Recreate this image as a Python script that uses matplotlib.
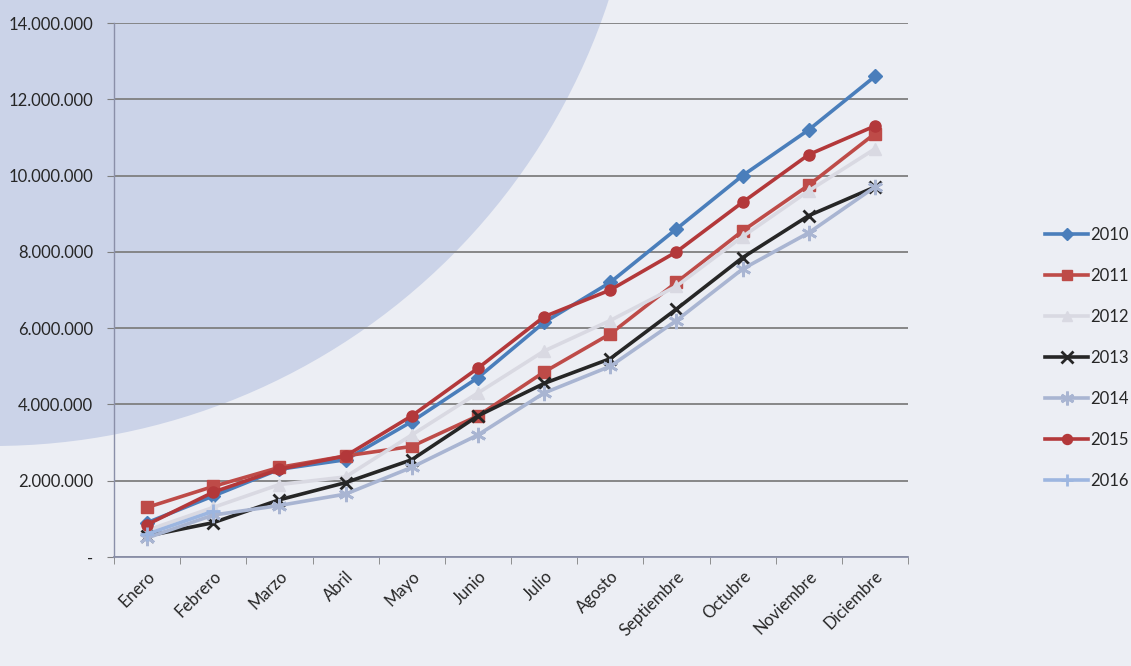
import numpy as np
import matplotlib
matplotlib.use("Agg")
import matplotlib.pyplot as plt
from matplotlib.patches import Circle
from matplotlib.ticker import FuncFormatter

# Datos (valores acumulados por mes)
meses = ["Enero", "Febrero", "Marzo", "Abril", "Mayo", "Junio", "Julio",
         "Agosto", "Septiembre", "Octubre", "Noviembre", "Diciembre"]

y2010 = [0.90, 1.60, 2.30, 2.55, 3.55, 4.70, 6.15, 7.20, 8.60, 10.00, 11.20, 12.60]
y2011 = [1.30, 1.85, 2.35, 2.65, 2.90, 3.70, 4.85, 5.85, 7.20, 8.55, 9.75, 11.10]
y2012 = [0.70, 1.30, 1.90, 2.10, 3.20, 4.30, 5.40, 6.20, 7.10, 8.40, 9.60, 10.70]
y2013 = [0.55, 0.90, 1.50, 1.95, 2.55, 3.70, 4.55, 5.20, 6.50, 7.85, 8.95, 9.70]
y2014 = [0.50, 1.10, 1.35, 1.65, 2.35, 3.20, 4.30, 5.00, 6.20, 7.55, 8.50, 9.70]
y2015 = [0.85, 1.70, 2.30, 2.65, 3.70, 4.95, 6.30, 7.00, 8.00, 9.30, 10.55, 11.30]
y2016 = [0.60, 1.20] + [np.nan] * 10

series = [
    ("2010", y2010, "#4a7ebb", "D", 7),
    ("2011", y2011, "#be4b48", "s", 8),
    ("2012", y2012, "#d9d9e2", "^", 8),
    ("2013", y2013, "#262626", "x", 9),
    ("2014", y2014, "#a9b5d2", (6, 2, 0), 11),
    ("2015", y2015, "#b3383a", "o", 8),
    ("2016", y2016, "#9db6e0", "+", 10),
]

W, H = 1131, 666
fig = plt.figure(figsize=(W / 100, H / 100), dpi=100)
fig.patch.set_facecolor("#eceef4")

# Círculo decorativo del fondo, en un eje de fondo que ocupa toda la figura
bg = fig.add_axes([0, 0, 1, 1], zorder=-5)
bg.set_xlim(0, W)
bg.set_ylim(H, 0)
bg.axis("off")
bg.add_patch(Circle((-7, -202), 648, facecolor="#cbd3e8", edgecolor="none"))

ax = fig.add_axes([114 / W, 1 - 557 / H, (908 - 114) / W, (557 - 23) / H])
ax.set_facecolor("none")

x = np.arange(len(meses))
for label, vals, color, marker, ms in series:
    vals = np.array(vals) * 1e6
    ax.plot(x, vals, color=color, lw=2.6, marker=marker, ms=ms,
            mew=2 if marker in ("x", "+") or isinstance(marker, tuple) else 1,
            label=label, zorder=3)

ax.set_xlim(-0.5, len(meses) - 0.5)
ax.set_ylim(0, 14e6)
ax.set_yticks(np.arange(0, 14e6 + 1, 2e6))


def fmt(v, pos):
    if v == 0:
        return "-"
    return f"{int(v):,}".replace(",", ".")


ax.yaxis.set_major_formatter(FuncFormatter(fmt))
ax.yaxis.grid(True, color="#7f7f7f", lw=1.3, zorder=1)
ax.set_axisbelow(True)

ax.set_xticks(x)
ax.set_xticklabels(meses, rotation=45, ha="right", rotation_mode="anchor",
                   fontsize=12, color="#262626", family="Lato")
ax.set_xticks(np.arange(-0.5, len(meses), 1), minor=True)
ax.tick_params(axis="x", which="major", length=0, pad=8)
ax.tick_params(axis="x", which="minor", length=5, color="#7f7f7f", direction="out")
ax.tick_params(axis="y", length=5, color="#7f7f7f", labelsize=12,
               labelcolor="#262626", pad=10)
for t in ax.get_yticklabels():
    t.set_family("Lato")

for s in ["top", "right"]:
    ax.spines[s].set_visible(False)
ax.spines["left"].set_color("#8a8fa8")
ax.spines["bottom"].set_color("#8a8fa8")
ax.spines["left"].set_linewidth(1.0)
ax.spines["bottom"].set_linewidth(1.3)

leg = fig.legend(loc="upper left", bbox_to_anchor=(1030 / W, 1 - 212 / H),
                 frameon=False, fontsize=12, labelspacing=1.5,
                 handlelength=2.6, handletextpad=0.1, markerscale=0.9)
for t in leg.get_texts():
    t.set_family("Lato")
    t.set_color("#262626")

fig.savefig("out.png", dpi=100, facecolor=fig.get_facecolor())
